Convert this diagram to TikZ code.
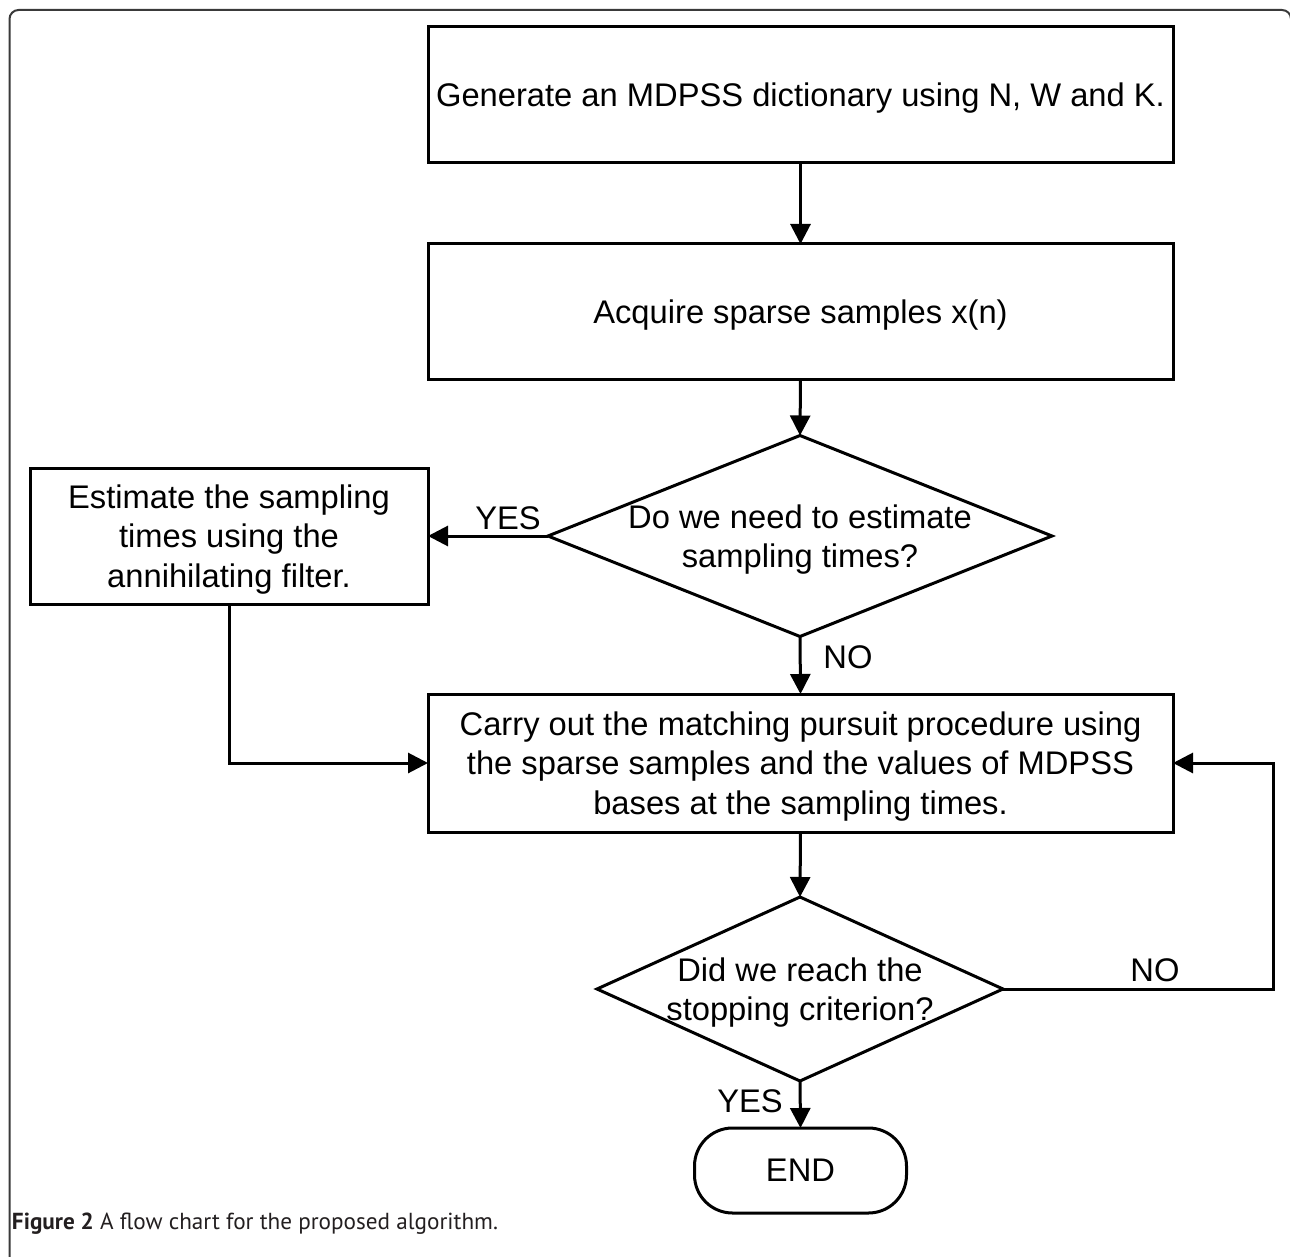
\documentclass[tikz,border=0pt]{standalone}
\usepackage{fontspec}
\setmainfont{Liberation Sans}
\newfontfamily\capfont{PT Sans}
\usetikzlibrary{shapes.geometric,arrows.meta}
\definecolor{framecol}{HTML}{3A3A3A}
\definecolor{captxt}{HTML}{231F20}
\begin{document}
\begin{tikzpicture}[x=1pt,y=-1pt,
  every node/.style={font=\fontsize{32.7}{39.5}\selectfont, inner sep=0pt, outer sep=0pt, text depth=0pt},
  stepbox/.style={draw, line width=3pt, minimum width=745, minimum height=136, align=center},
  decide/.style={draw, shape=diamond, line width=3pt, inner sep=0pt},
  dtext/.style={align=center},
  conn/.style={line width=3pt, -{Triangle[length=20pt,width=20pt]}},
  lbl/.style={}
]
\useasboundingbox (0,0) rectangle (1290,1257);
\begin{scope}
\clip (0,0) rectangle (1290,1257);
\draw[framecol, line width=2pt, rounded corners=9pt] (9.5,10) rectangle (1291,1300);
\end{scope}

\node[stepbox] (b1) at (800.5,95) {Generate an MDPSS dictionary using N, W and K.};
\node[stepbox, minimum height=135] (b2) at (800.5,311.5) {Acquire sparse samples x(n)};
\node[decide, minimum width=504, minimum height=201] (d1) at (800,536) {};
\node[dtext] (d1t) at (800,536) {Do we need to estimate\\sampling times?};
\node[stepbox, minimum width=398] (b3) at (229,536) {Estimate the sampling\\times using the\\annihilating filter.};
\node[stepbox, minimum height=138] (b4) at (800.5,763) {Carry out the matching pursuit procedure using\\the sparse samples and the values of MDPSS\\bases at the sampling times.};
\node[decide, minimum width=406, minimum height=184] (d2) at (800,989) {};
\node[dtext] (d2t) at (800,989) {Did we reach the\\stopping criterion?};
\node[draw, line width=3pt, rounded corners=38pt, minimum width=212, minimum height=85] (end) at (800.5,1170.5) {END};
\coordinate (lp) at (1273,989);

\draw[conn] (b1.south) -- (b2.north);
\draw[conn] (b2.south) -- (d1.north);
\draw[conn] (d1.west) -- (b3.east);
\draw[conn] (d1.south) -- (b4.north);
\draw[conn] (b3.south) |- (b4.west);
\draw[conn] (b4.south) -- (d2.north);
\draw[conn] (d2.east) -- (lp) |- (b4.east);
\draw[conn] (d2.south) -- (end.north);

\node[lbl] (yes1) at (508,518) {YES};
\node[lbl] (no1) at (848,657) {NO};
\node[lbl] (no2) at (1155,970) {NO};
\node[lbl] (yes2) at (750,1101) {YES};

\node[anchor=base west, font=\capfont\fontsize{23.2}{27}\selectfont, text=captxt] (cap) at (12,1229) {\textbf{Figure 2} A flow chart for the proposed algorithm.};
\end{tikzpicture}
\end{document}
